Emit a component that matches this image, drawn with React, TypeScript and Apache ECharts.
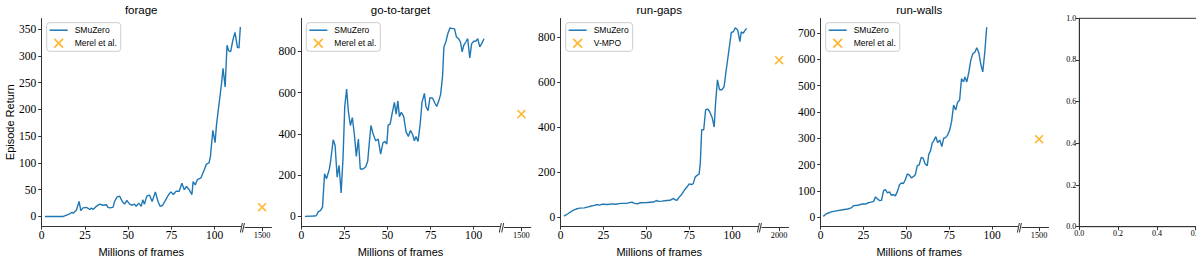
import React, { useEffect, useRef } from "react";
import * as echarts from "echarts";

const TITLES = ["forage", "go-to-target", "run-gaps", "run-walls"];
const LINE_NAME = "SMuZero";
const BASE_NAMES = ["Merel et al.", "Merel et al.", "V-MPO", "Merel et al."];
const BASE_X = [1500, 1500, 2000, 1500];
const BASE_Y = [20, 500, 700, 300];

const FORAGE_X = [1.9, 12.5, 14, 16.3, 17.5, 18.2, 20.1, 21.6, 22.6, 23.9, 25.9, 27.8, 28.7, 29.7, 31.6, 33.5, 35.4, 37.4, 38.3, 39.3, 41.2, 42.1, 43.5, 45, 46.6, 47.9, 49.2, 50.8, 52.3, 53.6, 54.6, 56.1, 57.5, 58.4, 59.4, 60.7, 62.3, 63.8, 65.7, 67.2, 68.4, 69.9, 71.5, 73.4, 74.7, 76.1, 77.6, 79.5, 81, 82.4, 83.7, 85.2, 86.8, 87.5, 88.7, 90, 92, 93.9, 95.2, 96.7, 97.5, 98.9, 100.2, 101, 102.5, 103.8, 104.8, 106, 107.1, 108, 109.2, 110.5, 111.7, 113.1, 114, 114.8];
const FORAGE_Y = [0, 0, 2, 5, 8, 6, 12, 28, 11, 16, 17, 13, 16, 13, 19, 23, 21, 22, 17, 16, 17, 28, 36, 38, 28, 23, 30, 23, 21, 23, 19, 25, 19, 31, 23, 38, 40, 28, 46, 28, 19, 21, 30, 41, 46, 41, 47, 47, 62, 50, 56, 50, 41, 65, 59, 69, 72, 87, 98, 100, 112, 161, 138, 171, 211, 245, 277, 242, 320, 310, 308, 330, 344, 316, 315, 354];

const GOTO_X = [2.1, 6.9, 8.7, 9.8, 11.2, 12.3, 13.5, 14.6, 16.2, 17, 18.5, 19.6, 20.8, 21.9, 23.1, 24.2, 25.2, 26.3, 27.3, 28.5, 29.6, 30.8, 31.9, 33.1, 34.2, 35.8, 37.3, 38.5, 39.6, 40.4, 41.5, 43.1, 44.6, 46, 47.3, 48.5, 49.6, 50.4, 51.5, 52.7, 54, 55, 56, 56.9, 58, 59.4, 60.8, 62.1, 63.3, 64.6, 65.6, 66.5, 67.7, 69, 70, 71.4, 72.3, 73.5, 74.6, 76.2, 77.5, 78.5, 79.6, 80.8, 81.9, 82.7, 83.8, 85, 86.2, 87.7, 88.8, 90, 91.2, 92.3, 93.3, 94.2, 95.4, 96.5, 97.7, 98.8, 100, 101.2, 102.3, 103.5, 104.6, 106];
const GOTO_Y = [0, 2, 3, 22, 29, 45, 207, 183, 227, 267, 372, 344, 190, 248, 114, 283, 533, 618, 508, 441, 479, 396, 291, 375, 230, 230, 240, 267, 372, 441, 404, 367, 375, 302, 356, 364, 351, 444, 447, 500, 553, 496, 560, 484, 505, 484, 409, 388, 417, 396, 367, 388, 364, 452, 553, 597, 533, 513, 576, 573, 549, 533, 557, 592, 677, 822, 846, 887, 914, 911, 911, 870, 862, 846, 798, 830, 846, 862, 769, 838, 850, 850, 862, 822, 838, 862];

const GAPS_X = [1.9, 4.2, 7.1, 9, 11, 13.8, 16.7, 19.6, 21.5, 22.5, 24.4, 27.3, 30.2, 32.1, 35, 38.8, 41.7, 42.7, 44.6, 46.5, 50.4, 54.2, 55.8, 57.1, 59, 62, 63.8, 65.8, 66.7, 67.7, 69.2, 70.6, 72.5, 73.8, 75, 76.2, 77.3, 78.5, 79.6, 80.8, 81.5, 82.3, 83.5, 84.6, 85.8, 86.9, 88.5, 89.6, 90.4, 91.5, 92.7, 94.2, 95.4, 96.5, 98.1, 99.6, 100.8, 101.9, 103.3, 104.6, 105.4, 106.5, 107.3, 108.5];
const GAPS_Y = [4, 15, 30, 36, 40, 41, 47, 52, 56, 53, 58, 56, 59, 57, 61, 62, 67, 62, 59, 64, 65, 67, 74, 70, 71, 74, 75, 83, 78, 74, 89, 101, 123, 135, 148, 145, 148, 178, 186, 192, 241, 389, 389, 478, 481, 470, 441, 401, 507, 611, 567, 567, 581, 648, 737, 822, 825, 843, 833, 781, 825, 818, 828, 840];

const WALLS_X = [1.5, 3.3, 6.2, 9.1, 12.9, 15.8, 17.8, 19.3, 21.6, 23.2, 24.5, 26.5, 27.4, 29.3, 30.9, 32, 33.2, 34.4, 35.5, 36.7, 37.8, 39, 40.2, 41.3, 42.5, 43.6, 44.8, 46, 47.1, 48.3, 49.4, 50.6, 51.7, 52.9, 54.1, 55.2, 56.4, 57.5, 58.7, 59.8, 61, 62.2, 63.1, 64.1, 65.1, 66, 67.2, 68.3, 69.5, 70.7, 71.8, 72.9, 74.1, 75.3, 76.4, 77.6, 78.8, 79.9, 81.1, 82.2, 83.4, 84.2, 85.3, 86.5, 87.6, 88.8, 90, 91.1, 92.3, 93.4, 94.6, 95.8, 96.9];
const WALLS_Y = [3, 13, 20, 24, 28, 31, 35, 44, 45, 48, 50, 50, 54, 57, 60, 77, 69, 63, 64, 101, 105, 92, 96, 83, 86, 81, 98, 123, 130, 128, 142, 164, 161, 149, 154, 161, 196, 199, 227, 224, 202, 196, 239, 252, 281, 290, 306, 283, 293, 268, 300, 302, 312, 331, 363, 426, 407, 436, 445, 526, 514, 533, 514, 552, 596, 621, 627, 644, 625, 583, 552, 627, 722];

const SERIES_X = [FORAGE_X, GOTO_X, GAPS_X, WALLS_X];
const SERIES_Y = [FORAGE_Y, GOTO_Y, GAPS_Y, WALLS_Y];

const Y_MIN = [-18, -47, -40, -34];
const Y_MAX = [370, 960, 884, 755];
const Y_TICKS = [
  [0, 50, 100, 150, 200, 250, 300, 350],
  [0, 200, 400, 600, 800],
  [0, 200, 400, 600, 800],
  [0, 100, 200, 300, 400, 500, 600, 700],
];
const X_TICKS = [0, 25, 50, 75, 100];
const X_MAX = 115;
const SMALL_TICKS = [[1500], [1500], [2000], [1500]];
const SMALL_MIN = [1400, 1400, 1900, 1400];
const SMALL_MAX = [1555, 1555, 2055, 1555];
const EMPTY_TICKS = [0, 0.2, 0.4, 0.6, 0.8, 1.0];

// layout
const MAIN_LEFT = [41.7, 301.3, 560.7, 820.7];
const MAIN_W = [199, 198.3, 197, 197];
const SMALL_LEFT = [245, 504.3, 762, 1022];
const SMALL_W = 26.5;
const TOP = 18.5;
const BOTTOM = 227.7;
const H = BOTTOM - TOP;

const AX = "#333";
const SERIF = '"Liberation Serif", "DejaVu Serif", serif';
const SANS = '"Liberation Sans", "DejaVu Sans", sans-serif';
const BLUE = "#1f77b4";
const ORANGE = "#ffa500";
const X_SYMBOL =
  "path://M0,1.27L1.27,0L5,3.73L8.73,0L10,1.27L6.27,5L10,8.73L8.73,10L5,6.27L1.27,10L0,8.73L3.73,5Z";
const LINE_ICON = "path://M0,0L18,0L18,1.5L0,1.5Z";

export default function App() {
  const ref = useRef<HTMLDivElement>(null);
  useEffect(() => {
    const chart = echarts.init(ref.current!, null, { renderer: "svg" });
    const grid: any[] = [];
    const xAxis: any[] = [];
    const yAxis: any[] = [];
    const series: any[] = [];
    const legend: any[] = [];
    const graphic: any[] = [];
    const plain = (v: number) => String(v);

    for (let i = 0; i < 4; i++) {
      grid.push({ left: MAIN_LEFT[i], top: TOP, width: MAIN_W[i], height: H });
      grid.push({ left: SMALL_LEFT[i], top: TOP, width: SMALL_W, height: H });
      xAxis.push({
        type: "value",
        gridIndex: 2 * i,
        min: 0,
        max: X_MAX,
        axisLine: { show: true, onZero: false, lineStyle: { color: AX, width: 1 } },
        axisTick: { show: true, length: 3.5, customValues: X_TICKS, lineStyle: { color: AX, width: 1 } },
        axisLabel: { customValues: X_TICKS, margin: 3, fontFamily: SERIF, fontSize: 11.5, color: "#000", formatter: plain },
        splitLine: { show: false },
        name: "Millions of frames",
        nameLocation: "middle",
        nameGap: 15,
        nameTextStyle: { fontFamily: SANS, fontSize: 11, color: "#000" },
      });
      xAxis.push({
        type: "value",
        gridIndex: 2 * i + 1,
        min: SMALL_MIN[i],
        max: SMALL_MAX[i],
        axisLine: { show: true, onZero: false, lineStyle: { color: AX, width: 1 } },
        axisTick: { show: true, length: 3.5, customValues: SMALL_TICKS[i], lineStyle: { color: AX, width: 1 } },
        axisLabel: { customValues: SMALL_TICKS[i], margin: 4, fontFamily: SERIF, fontSize: 8.3, color: "#000", formatter: plain },
        splitLine: { show: false },
      });
      const ya: any = {
        type: "value",
        gridIndex: 2 * i,
        min: Y_MIN[i],
        max: Y_MAX[i],
        axisLine: { show: true, onZero: false, lineStyle: { color: AX, width: 1 } },
        axisTick: { show: true, length: 3.5, customValues: Y_TICKS[i], lineStyle: { color: AX, width: 1 } },
        axisLabel: { customValues: Y_TICKS[i], margin: 5.5, fontFamily: SERIF, fontSize: 11.5, color: "#000", formatter: plain },
        splitLine: { show: false },
      };
      if (i === 0) {
        ya.name = "Episode Return";
        ya.nameLocation = "middle";
        ya.nameGap = 26;
        ya.nameRotate = 90;
        ya.nameTextStyle = { fontFamily: SANS, fontSize: 11, color: "#000" };
      }
      yAxis.push(ya);
      yAxis.push({ type: "value", gridIndex: 2 * i + 1, min: Y_MIN[i], max: Y_MAX[i], show: false, splitLine: { show: false } });

      series.push({
        type: "line",
        name: LINE_NAME,
        xAxisIndex: 2 * i,
        yAxisIndex: 2 * i,
        data: SERIES_X[i].map((x, k) => [x, SERIES_Y[i][k]]),
        symbol: "none",
        showSymbol: false,
        lineStyle: { color: BLUE, width: 1.4 },
        itemStyle: { color: BLUE },
      });
      series.push({
        type: "scatter",
        name: BASE_NAMES[i],
        xAxisIndex: 2 * i + 1,
        yAxisIndex: 2 * i + 1,
        data: [[BASE_X[i], BASE_Y[i]]],
        symbol: X_SYMBOL,
        symbolSize: 9,
        itemStyle: { color: ORANGE },
      });

      legend.push({
        left: MAIN_LEFT[i] + 5,
        top: 22.7,
        orient: "vertical",
        data: [
          { name: LINE_NAME, icon: LINE_ICON, itemStyle: { color: BLUE } },
          { name: BASE_NAMES[i], icon: X_SYMBOL, itemStyle: { color: ORANGE } },
        ],
        itemWidth: 18,
        itemHeight: 10,
        itemGap: 3.6,
        padding: [3, 4, 3, 3],
        backgroundColor: "#fff",
        borderColor: "#ccc",
        borderWidth: 1,
        borderRadius: 3,
        selectedMode: false,
        textStyle: { fontFamily: SANS, fontSize: 8.5, color: "#000", padding: [0, 0, 0, 2] },
      });

      const e = MAIN_LEFT[i] + MAIN_W[i];
      const s = SMALL_LEFT[i];
      graphic.push({ type: "line", shape: { x1: e - 0.3, y1: 232.5, x2: e + 1.7, y2: 223 }, style: { stroke: AX, lineWidth: 1 } });
      graphic.push({ type: "line", shape: { x1: s - 2.6, y1: 232.5, x2: s - 0.6, y2: 223 }, style: { stroke: AX, lineWidth: 1 } });
      graphic.push({
        type: "text",
        x: MAIN_LEFT[i] + MAIN_W[i] / 2,
        y: 9.5,
        style: { text: TITLES[i], fill: "#000", fontFamily: SANS, fontSize: 11.5, align: "center", verticalAlign: "middle" },
      });
    }

    // empty fifth panel (extends past the right edge, clipped by the wrapper)
    grid.push({ left: 1079.3, top: 18.3, width: 194, height: 208.4, show: true, borderColor: AX, borderWidth: 1, backgroundColor: "transparent" });
    const emptyAxis = (gi: number, isX: boolean) => ({
      type: "value",
      gridIndex: gi,
      min: 0,
      max: 1,
      axisLine: { show: true, onZero: false, lineStyle: { color: AX, width: 1 } },
      axisTick: { show: true, length: 3.5, customValues: EMPTY_TICKS, lineStyle: { color: AX, width: 1 } },
      axisLabel: {
        customValues: EMPTY_TICKS,
        margin: isX ? 2.5 : 3,
        fontFamily: SERIF,
        fontSize: 8,
        color: "#000",
        formatter: (v: number) => v.toFixed(1),
      },
      splitLine: { show: false },
    });
    xAxis.push(emptyAxis(8, true));
    yAxis.push(emptyAxis(8, false));

    chart.setOption({
      animation: false,
      backgroundColor: "#fff",
      grid,
      xAxis,
      yAxis,
      series,
      legend,
      graphic,
    });
    return () => chart.dispose();
  }, []);
  return (
    <div style={{ position: "absolute", left: 0, top: 0, width: 1196, height: 262, overflow: "hidden" }}>
      <div ref={ref} style={{ width: 1320, height: 262 }} />
    </div>
  );
}
